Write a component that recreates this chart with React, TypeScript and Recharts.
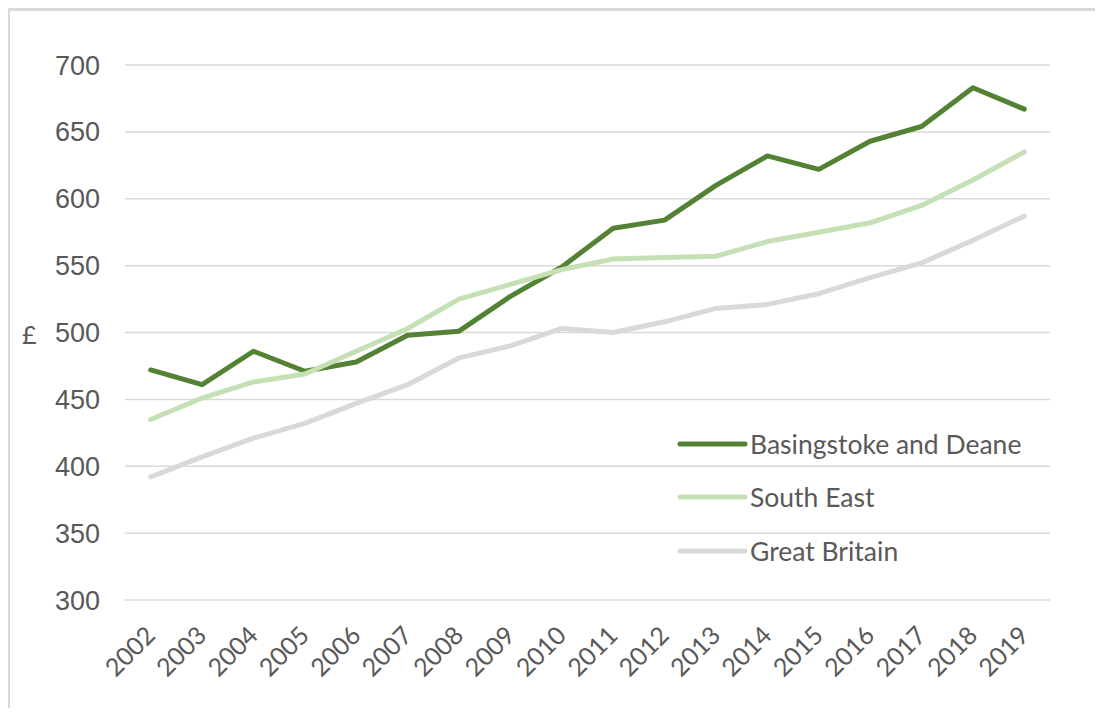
import React from 'react';
import { LineChart, Line, XAxis, YAxis, CartesianGrid, Legend } from 'recharts';

const years = ['2002','2003','2004','2005','2006','2007','2008','2009','2010','2011','2012','2013','2014','2015','2016','2017','2018','2019'];
const basingstoke = [472, 461, 486, 471, 478, 498, 501, 527, 549, 578, 584, 610, 632, 622, 643, 654, 683, 667];
const southEast = [435, 451, 463, 469, 486, 503, 525, 536, 547, 555, 556, 557, 568, 575, 582, 595, 614, 635];
const greatBritain = [392, 407, 421, 432, 447, 461, 481, 490, 503, 500, 508, 518, 521, 529, 541, 552, 569, 587];
const yTicks = [300, 350, 400, 450, 500, 550, 600, 650, 700];

const seriesKeys = ['b', 'se', 'gb'];
const seriesNames = ['Basingstoke and Deane', 'South East', 'Great Britain'];
const seriesColors = ['#548235', '#c5e0b4', '#d9d9d9'];

const data = years.map((y, i) => ({
  year: y,
  b: basingstoke[i],
  se: southEast[i],
  gb: greatBritain[i],
}));

const TEXT = '#595959';

const YearTick = (props: any) => {
  const { x, y, payload } = props;
  return (
    <g transform={`translate(${x + 6},${y + 37})`}>
      <text textAnchor="end" transform="rotate(-45)" fill={TEXT} fontSize={25} fontFamily="Lato">
        {payload.value}
      </text>
    </g>
  );
};

const renderLegend = () => {
  return (
    <div>
      {seriesNames.map((name, i) => (
        <div key={name} style={{ height: 53.5, display: 'flex', alignItems: 'center' }}>
          <svg width={71} height={10} style={{ display: 'block' }}>
            <line x1={3} y1={5} x2={68} y2={5} stroke={seriesColors[i]} strokeWidth={5} strokeLinecap="round" />
          </svg>
          <span style={{ fontFamily: 'Lato', fontSize: 26.5, color: TEXT, marginLeft: 2, whiteSpace: 'nowrap' }}>{name}</span>
        </div>
      ))}
    </div>
  );
};

export default function App() {
  return (
    <div style={{ position: 'relative', width: 1080, height: 700 }}>
      <style>{`html,body{overflow:hidden}`}</style>
      <div
        style={{
          position: 'absolute',
          left: -2,
          top: 0,
          width: 1110,
          height: 716,
          borderTop: '3px solid #d9d9d9',
          borderLeft: '4px solid #d9d9d9',
          boxSizing: 'border-box',
        }}
      />
      <div style={{ position: 'absolute', left: 14, top: 311, fontFamily: 'Lato', fontSize: 25, color: TEXT }}>£</div>
      <LineChart width={1080} height={700} data={data} margin={{ top: 57, right: 38, bottom: 0, left: 0 }}>
        <CartesianGrid vertical={false} stroke="#d9d9d9" strokeWidth={1.5} />
        <XAxis
          dataKey="year"
          height={108}
          axisLine={false}
          tickLine={false}
          tickSize={0}
          tickMargin={0}
          interval={0}
          padding={{ left: 25.7, right: 25.7 }}
          tick={<YearTick />}
        />
        <YAxis
          width={117}
          domain={[300, 700]}
          ticks={yTicks}
          axisLine={false}
          tickLine={false}
          tickSize={6}
          tickMargin={19}
          tick={{ fill: TEXT, fontSize: 27, fontFamily: 'Liberation Sans' }}
        />
        <Legend
          layout="vertical"
          align="center"
          verticalAlign="middle"
          wrapperStyle={{ left: 669, top: 409, width: 400 }}
          content={renderLegend}
        />
        {seriesKeys.map((k, i) => (
          <Line
            key={k}
            type="linear"
            dataKey={k}
            name={seriesNames[i]}
            stroke={seriesColors[i]}
            strokeWidth={5}
            dot={false}
            isAnimationActive={false}
            strokeLinejoin="round"
            strokeLinecap="round"
          />
        ))}
      </LineChart>
    </div>
  );
}
